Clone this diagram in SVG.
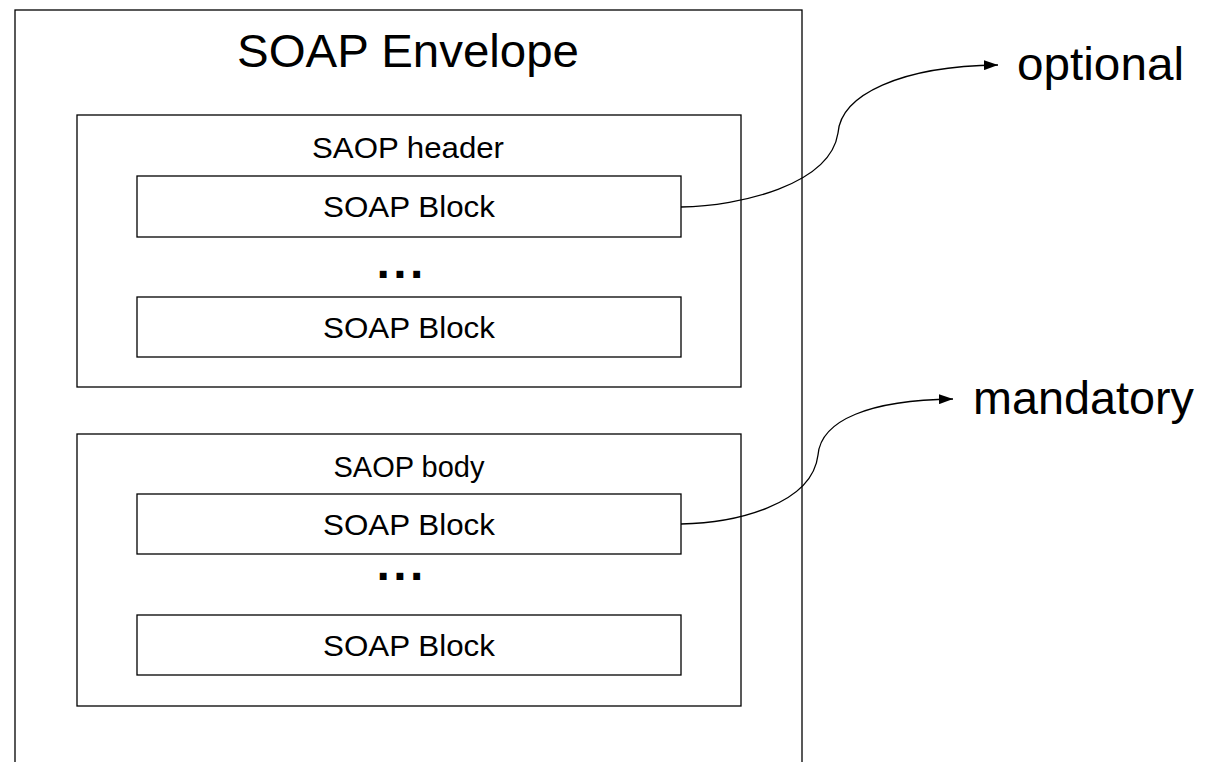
<svg xmlns="http://www.w3.org/2000/svg" width="1211" height="762" viewBox="0 0 1211 762">
  <style>
    .box { fill: #ffffff; stroke: #000000; stroke-width: 1.3; }
    .t { font-family: "Liberation Sans", Arial, sans-serif; fill: #000000; text-anchor: middle; }
    .title { font-size: 46px; }
    .label { font-size: 29px; }
    .block { font-size: 29px; }
    .dots { font-size: 48px; font-weight: bold; letter-spacing: 3.4px; }
    .side { font-family: "Liberation Sans", Arial, sans-serif; font-size: 46px; fill: #000000; }
    .conn { fill: none; stroke: #000000; stroke-width: 1.3; }
  </style>
  <defs>
    <marker id="arrow" viewBox="0 0 14 10" refX="14" refY="5" markerWidth="14" markerHeight="10" markerUnits="userSpaceOnUse" orient="auto">
      <path d="M0,0 L14,5 L0,10 Z" fill="#000000"/>
    </marker>
  </defs>
  <rect width="1211" height="762" fill="#ffffff"/>

  <g id="envelope">
    <rect class="box" x="15" y="10" width="787" height="770"/>
    <text class="t title" x="408" y="67" textLength="342" lengthAdjust="spacingAndGlyphs">SOAP Envelope</text>
  </g>

  <g id="header">
    <rect class="box" x="77" y="115" width="664" height="272"/>
    <text class="t label" x="408" y="158" textLength="192" lengthAdjust="spacingAndGlyphs">SAOP header</text>
  </g>

  <g id="header-block-1">
    <rect class="box" x="137" y="176" width="544" height="61"/>
    <text class="t block" x="409" y="217" textLength="172" lengthAdjust="spacingAndGlyphs">SOAP Block</text>
  </g>

  <g id="header-dots">
    <text class="t dots" x="401.7" y="278">...</text>
  </g>

  <g id="header-block-2">
    <rect class="box" x="137" y="297" width="544" height="60"/>
    <text class="t block" x="409" y="338" textLength="172" lengthAdjust="spacingAndGlyphs">SOAP Block</text>
  </g>

  <g id="body">
    <rect class="box" x="77" y="434" width="664" height="272"/>
    <text class="t label" x="409" y="477">SAOP body</text>
  </g>

  <g id="body-block-1">
    <rect class="box" x="137" y="494" width="544" height="60"/>
    <text class="t block" x="409" y="535" textLength="172" lengthAdjust="spacingAndGlyphs">SOAP Block</text>
  </g>

  <g id="body-dots">
    <text class="t dots" x="401.7" y="580">...</text>
  </g>

  <g id="body-block-2">
    <rect class="box" x="137" y="615" width="544" height="60"/>
    <text class="t block" x="409" y="656" textLength="172" lengthAdjust="spacingAndGlyphs">SOAP Block</text>
  </g>

  <g id="optional">
    <text class="side" x="1017" y="80" textLength="167" lengthAdjust="spacingAndGlyphs">optional</text>
  </g>

  <g id="mandatory">
    <text class="side" x="973" y="414" textLength="221" lengthAdjust="spacingAndGlyphs">mandatory</text>
  </g>

  <g id="connectors">
    <path class="conn" marker-end="url(#arrow)" d="M681,207 C740,206 830,185 838,133 C841,95 900,66 998,65"/>
    <path class="conn" marker-end="url(#arrow)" d="M681,524 C735,523 812,505 818,455 C821,420 870,400 953,399"/>
  </g>
</svg>
